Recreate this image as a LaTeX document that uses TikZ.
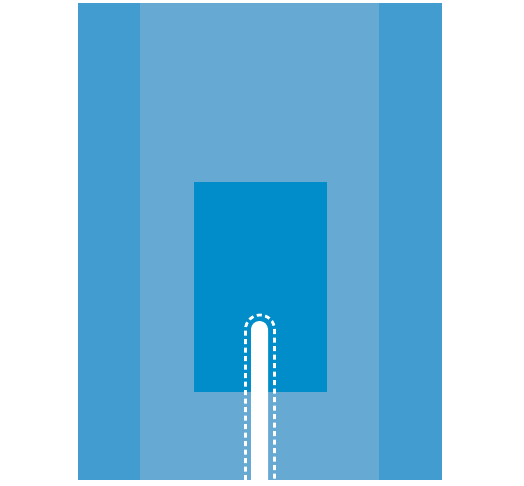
\documentclass[tikz,border=0pt]{standalone}
\usetikzlibrary{calc}
\definecolor{sidebl}{HTML}{429CD0}
\definecolor{midbl}{HTML}{66AAD3}
\definecolor{innerbl}{HTML}{008DC9}
\def\slotcut(#1:#2:#3){\fill[white] ($(#1)+(-#3,0)$) -- ++(0,#2) arc (180:360:#3) -- ($(#1)+(#3,0)$) -- cycle;}
\begin{document}
\begin{tikzpicture}[x=1pt,y=-1pt]
		%%%%% START %%%%%
		\useasboundingbox (0, 0) rectangle (524, 486);
		
		\fill[midbl] (77.5, 2.7) rectangle (441.7, 480);
		\fill[sidebl] (77.5, 2.7) rectangle (140, 480);
		\fill[sidebl] (379, 2.7) rectangle (441.7, 480);
		
		\fill[innerbl] (193.5, 181.7) rectangle (326.5, 392);
		
		\slotcut(259.5, 480:-150.5:8.5)
		\draw[white, line width=2.8pt, dash pattern=on 5pt off 3.5pt] (245.5, 480) -- (245.5, 329.5) arc (180:360:14.5) -- (274.5, 480);
		%%%%% END %%%%%
\end{tikzpicture}
\end{document}
